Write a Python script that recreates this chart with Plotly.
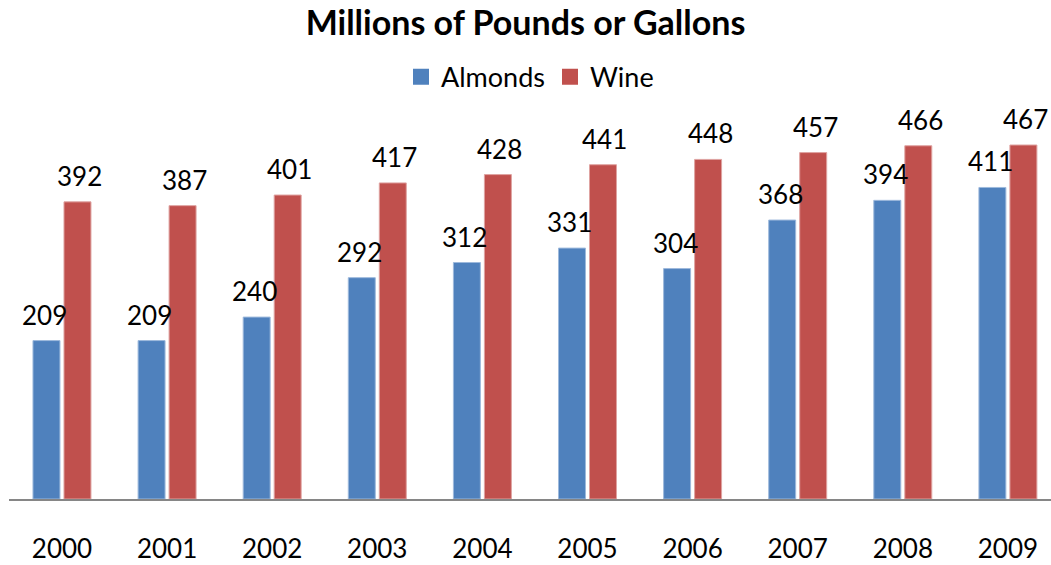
import plotly.graph_objects as go

years = ["2000", "2001", "2002", "2003", "2004", "2005", "2006", "2007", "2008", "2009"]
almonds = [209, 209, 240, 292, 312, 331, 304, 368, 394, 411]
wine = [392, 387, 401, 417, 428, 441, 448, 457, 466, 467]

FONT = "Lato, 'Open Sans', sans-serif"
LABEL_SIZE = 26
ALMOND_COLOR = "#4F81BD"
WINE_COLOR = "#C0504D"

fig = go.Figure()
fig.add_trace(go.Bar(
    x=years, y=almonds, name="Almonds", showlegend=False,
    marker=dict(color=ALMOND_COLOR, line=dict(color="#9DB9DC", width=1)),
))
fig.add_trace(go.Bar(
    x=years, y=wine, name="Wine", showlegend=False,
    marker=dict(color=WINE_COLOR, line=dict(color="#DFA3A1", width=1)),
))
# legend entries with larger square swatches
for name, color in (("Almonds", ALMOND_COLOR), ("Wine", WINE_COLOR)):
    fig.add_trace(go.Scatter(
        x=[None], y=[None], mode="markers", name=name,
        marker=dict(symbol="square", size=16, color=color, line=dict(width=0)),
    ))

# value labels above each bar (x given as category index)
for series, shift in ((almonds, -17.5), (wine, 17.5)):
    for i, v in enumerate(series):
        fig.add_annotation(
            x=i, y=v, xref="x", yref="y", text=str(v), showarrow=False,
            xanchor="center", yanchor="bottom", xshift=shift, yshift=8,
            font=dict(size=LABEL_SIZE, family=FONT, color="#000000"),
        )

fig.update_layout(
    width=1051, height=565,
    margin=dict(l=9, r=0, t=120, b=66),
    paper_bgcolor="white", plot_bgcolor="white",
    font=dict(family=FONT, size=LABEL_SIZE, color="#000000"),
    title=dict(text="<b>Millions of Pounds or Gallons</b>", x=0.5, xanchor="center",
               y=0.96, yanchor="middle", font=dict(size=34, family=FONT)),
    legend=dict(orientation="h", x=0.5, xanchor="center", y=1.113, yanchor="middle",
                font=dict(size=27, family=FONT), itemwidth=30, traceorder="normal"),
    barmode="group", bargap=0.41, bargroupgap=0.13,
    showlegend=True,
)
fig.update_xaxes(
    type="category", range=[-0.504, 9.41],
    showline=True, linecolor="#868686", linewidth=2,
    showgrid=False, ticks="", ticklabelstandoff=26,
    tickfont=dict(size=LABEL_SIZE, family=FONT),
)
fig.update_yaxes(range=[0, 500], visible=False, showgrid=False)

fig.write_html("out.html", config={"displayModeBar": False},
               post_script="document.body.style.margin='0';document.body.style.overflow='hidden';")
